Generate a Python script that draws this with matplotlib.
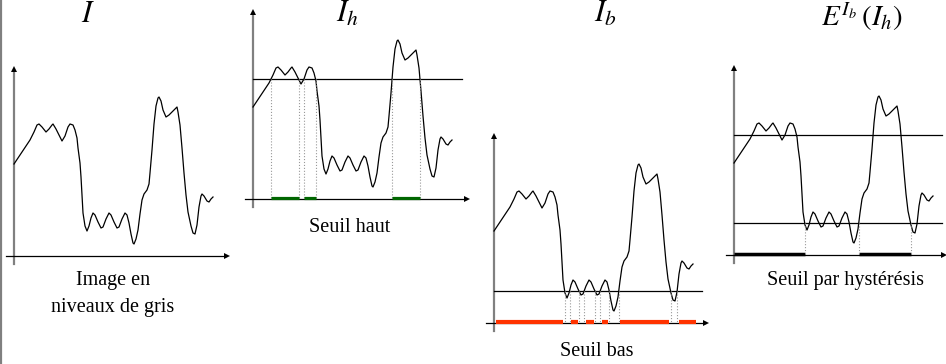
import numpy as np
import matplotlib.pyplot as plt

plt.rcParams['mathtext.fontset'] = 'stix'
plt.rcParams['font.family'] = ['Liberation Serif', 'DejaVu Serif']

# profil de niveaux de gris (position, intensite)
pos = [0, 8, 16, 20, 23, 25, 28, 32, 35, 38, 39, 42, 45, 48, 51, 54, 56, 59, 61, 63,
       64, 66, 67, 68, 69, 71, 73, 75, 77, 79, 81, 84, 87, 89, 92, 95, 97, 100, 103,
       105, 108, 111, 113, 115, 117, 119, 120, 122, 124, 126, 128, 130, 133, 135, 136,
       138, 140, 142, 144, 145, 147, 149, 152, 155, 159, 162, 163, 164, 166, 168, 170,
       172, 174, 177, 179, 181, 183, 185, 187, 188, 190, 193, 195, 197, 199]
val = [92, 104, 116, 124, 131, 132, 129, 124, 127, 131, 132, 127, 121, 115, 120, 129,
       132, 131, 126, 118, 108, 93, 79, 61, 43, 30, 25, 30, 38, 43, 41, 34, 28, 29, 37,
       43, 41, 34, 28, 29, 37, 43, 41, 33, 22, 13, 12, 17, 26, 42, 56, 62, 66, 72, 83,
       106, 132, 150, 158, 159, 155, 146, 139, 141, 145, 148, 149, 144, 131, 108, 83,
       61, 44, 30, 23, 22, 31, 49, 60, 62, 60, 55, 54, 57, 59]

seuil_haut = 120
seuil_bas = 32

titres = [r'$I$', r'$I_h$', r'$I_b$', r'$E^{I_b}\,(I_h)$']
legendes = ['Image en\nniveaux de gris', 'Seuil haut', 'Seuil bas', 'Seuil par hystérésis']

pos = np.array(pos, float)
val = np.array(val, float)


def croisements(t):
    xs = []
    for i in range(len(val) - 1):
        a, b = val[i] - t, val[i + 1] - t
        if (a > 0) != (b > 0):
            xs.append(pos[i] + (pos[i + 1] - pos[i]) * a / (a - b))
    return xs


def intervalles(t, fin=0):
    bords = croisements(t)
    if val[0] > t:
        bords = [pos[0]] + bords
    if val[-1] > t:
        bords = bords + [pos[-1] + fin]
    return [(bords[i], bords[i + 1]) for i in range(0, len(bords) - 1, 2)]


fig = plt.figure(figsize=(9.46, 3.64), dpi=100)
ax = fig.add_axes([0, 0, 1, 1])
ax.set_xlim(0, 946)
ax.set_ylim(364, 0)
ax.axis('off')

# bord gauche
ax.plot([1, 1], [0, 364], color='#808080', lw=1.6)

# origines des 4 panneaux (axe y, axe x)
origines = [(14, 256), (253, 199), (494, 323), (734, 255)]
titre_xy = [(88, 22), (347, 22), (605, 22), (862, 26)]
titre_fs = [22, 22, 22, 21]
legende_xy = [(113, 294), (350, 227), (597, 351), (845, 280)]
long_x = [216, 217, 215, 213]

for k, (x0, y0) in enumerate(origines):
    # axes
    ax.plot([x0, x0], [y0 + 8, y0 - 186], color='#808080', lw=1.6)
    ax.plot([x0], [y0 - 187], marker='^', color='k', ms=5, mew=0)
    ax.plot([x0 - 8, x0 + long_x[k] - 4], [y0, y0], color='k', lw=0.9)
    ax.plot([x0 + long_x[k] - 3], [y0], marker='>', color='k', ms=5, mew=0)

    ax.plot(x0 + pos, y0 - val, color='k', lw=0.9)

    ax.text(titre_xy[k][0], titre_xy[k][1], titres[k], ha='center', va='baseline',
            fontsize=titre_fs[k])
    ax.text(legende_xy[k][0], legende_xy[k][1], legendes[k], ha='center', va='center',
            fontsize=14.5, linespacing=1.6)

# panneau 2 : seuil haut
x0, y0 = origines[1]
ax.plot([x0, x0 + 209], [y0 - seuil_haut] * 2, color='k', lw=0.9)
for c in croisements(seuil_haut):
    ax.plot([x0 + c] * 2, [y0 - seuil_haut, y0], color='#999999', lw=0.8, ls=':')
for a, b in intervalles(seuil_haut):
    ax.plot([x0 + a, x0 + b], [y0 - 1.5] * 2, color='#006600', lw=2.3,
            solid_capstyle='butt')

# panneau 3 : seuil bas
x0, y0 = origines[2]
ax.plot([x0, x0 + 208], [y0 - seuil_bas] * 2, color='k', lw=0.9)
for c in croisements(seuil_bas):
    ax.plot([x0 + c] * 2, [y0 - seuil_bas, y0], color='#999999', lw=0.8, ls=':')
for a, b in intervalles(seuil_bas, fin=4):
    ax.plot([x0 + a + 1.5, x0 + b - 1.5], [y0 - 1] * 2, color='#ff3300', lw=3,
            solid_capstyle='butt')

# panneau 4 : hysteresis
x0, y0 = origines[3]
ax.plot([x0, x0 + 208], [y0 - seuil_haut] * 2, color='k', lw=0.9)
ax.plot([x0, x0 + 208], [y0 - seuil_bas] * 2, color='k', lw=0.9)
for a, b in intervalles(seuil_bas):
    m = (pos >= a) & (pos <= b)
    if (val[m] > seuil_haut).any():
        ax.plot([x0 + a, x0 + b], [y0 - 1.5] * 2, color='k', lw=2.5,
                solid_capstyle='butt')
        for c in (a, b):
            if pos[0] < c < pos[-1]:
                ax.plot([x0 + c] * 2, [y0 - seuil_bas, y0], color='#999999',
                        lw=0.8, ls=':')

plt.savefig('out.png', dpi=100)
